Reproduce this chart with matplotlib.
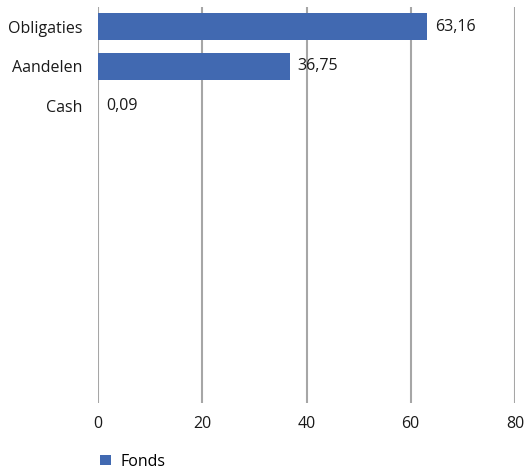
import matplotlib.pyplot as plt

categories = ["Obligaties", "Aandelen", "Cash"]
values = [63.16, 36.75, 0.09]
n_rows = 10  # chart reserves room for 10 category rows
xticks = [0, 20, 40, 60, 80]

bar_color = "#4169B1"
grid_color = "#A6A6A6"
text_color = "#1a1a1a"
fs = 11.5

plt.rcParams["font.family"] = ["Open Sans", "DejaVu Sans"]

fig = plt.figure(figsize=(5.26, 4.73), dpi=100)
ax = fig.add_axes([98 / 526, 1 - 403 / 473, 417 / 526, 396 / 473])

pos = list(range(len(categories)))
ax.barh(pos, values, height=0.68, color=bar_color, label="Fonds", zorder=3)

for y, v in zip(pos, values):
    ax.text(v + 1.5, y, f"{v:.2f}".replace(".", ","), va="center", ha="left",
            fontsize=fs, color=text_color)

ax.set_ylim(n_rows - 0.5, -0.5)
ax.set_xlim(0, 80)
ax.set_yticks(pos)
ax.set_yticklabels(categories, fontsize=fs, color=text_color)
ax.set_xticks(xticks)
ax.set_xticklabels([str(t) for t in xticks], fontsize=fs, color=text_color)
ax.tick_params(axis="both", length=0)
ax.tick_params(axis="y", pad=11)
ax.tick_params(axis="x", pad=9)

ax.grid(axis="x", color=grid_color, linewidth=1.5, zorder=0)
for s in ax.spines.values():
    s.set_visible(False)

ax.legend(loc="upper left", bbox_to_anchor=(-0.01, -0.112), frameon=False,
          fontsize=fs, handlelength=0.65, handleheight=0.65, handletextpad=0.6,
          borderaxespad=0)

fig.savefig("out.png", dpi=100)
